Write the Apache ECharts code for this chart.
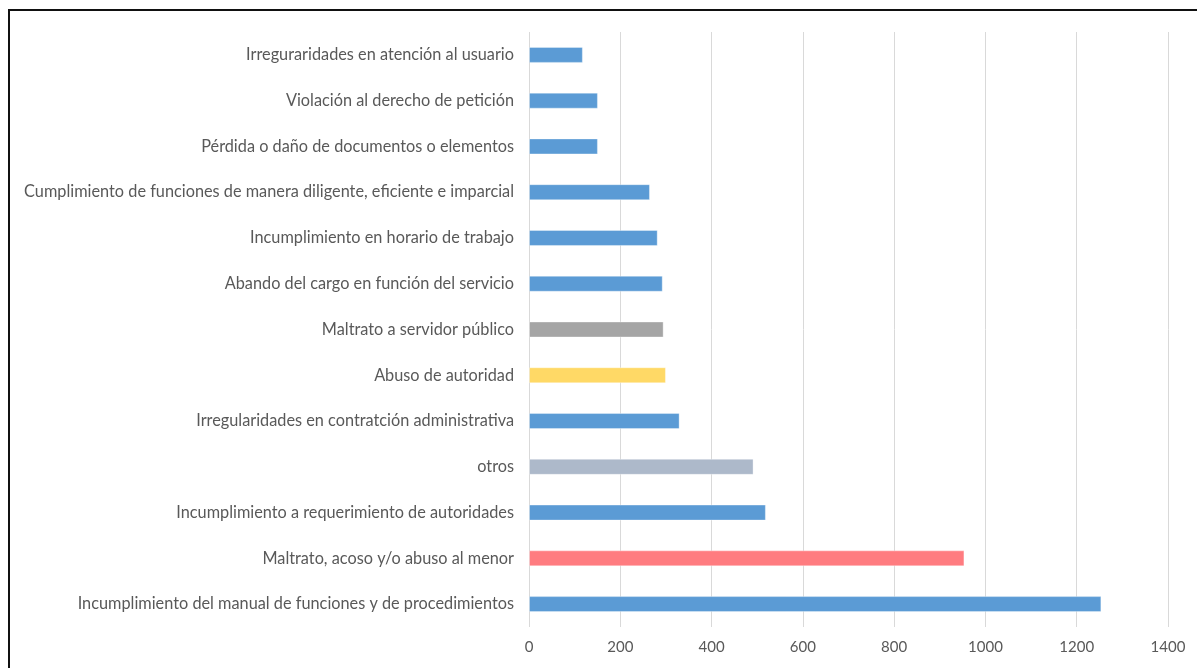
<!DOCTYPE html>
<html>
<head>
<meta charset="utf-8">
<script src="https://cdn.jsdelivr.net/npm/echarts@6/dist/echarts.min.js"></script>
<style>
  html, body { margin: 0; padding: 0; background: #fff; }
  #frame {
    position: absolute; left: 8px; top: 9px; width: 1189px; height: 659px;
    border-top: 2px solid #111; border-left: 2px solid #111;
    box-sizing: border-box;
  }
  #chart { position: absolute; left: 0; top: 0; width: 1197px; height: 668px; }
</style>
</head>
<body>
<div id="chart"></div>
<div id="frame"></div>
<script>
// categories listed bottom -> top (as the y axis runs)
const categories = [
  'Incumplimiento del manual de funciones y de procedimientos',
  'Maltrato, acoso y/o abuso al menor',
  'Incumplimiento a requerimiento de autoridades',
  'otros',
  'Irregularidades en contratción administrativa',
  'Abuso de autoridad',
  'Maltrato a servidor público',
  'Abando del cargo en función del servicio',
  'Incumplimiento en horario de trabajo',
  'Cumplimiento de funciones de manera diligente, eficiente e imparcial',
  'Pérdida o daño de documentos o elementos',
  'Violación al derecho de petición',
  'Irreguraridades en atención al usuario'
]
const values = [1254, 954, 519, 492, 330, 300, 295, 293, 282, 265, 151, 151, 118]
const barColors = [
  '#5B9BD5', '#FF7C80', '#5B9BD5', '#ADB9CA', '#5B9BD5', '#FFD966', '#A5A5A5',
  '#5B9BD5', '#5B9BD5', '#5B9BD5', '#5B9BD5', '#5B9BD5', '#5B9BD5'
]
const xTicks = [0, 200, 400, 600, 800, 1000, 1200, 1400]

const chart = echarts.init(document.getElementById('chart'))
chart.setOption({
  animation: false,
  textStyle: { fontFamily: 'Lato, "Open Sans", sans-serif' },
  grid: { left: 529, right: 29, top: 32, bottom: 41 },
  xAxis: {
    type: 'value',
    min: xTicks[0],
    max: xTicks[xTicks.length - 1],
    interval: 200,
    axisLine: { show: false },
    axisTick: { show: false },
    axisLabel: { color: '#595959', fontSize: 15, margin: 13, formatter: v => String(v) },
    splitLine: { lineStyle: { color: '#D9D9D9', width: 1 } }
  },
  yAxis: {
    type: 'category',
    data: categories,
    axisLine: { show: false },
    axisTick: { show: false },
    axisLabel: { color: '#595959', fontSize: 16.3, margin: 15 }
  },
  series: [{
    type: 'bar',
    barWidth: 16,
    data: values.map((v, i) => ({
      value: v,
      itemStyle: { color: barColors[i], borderColor: 'rgba(255,255,255,0.35)', borderWidth: 1 }
    }))
  }]
})
window.addEventListener('resize', () => chart.resize())
</script>
</body>
</html>
